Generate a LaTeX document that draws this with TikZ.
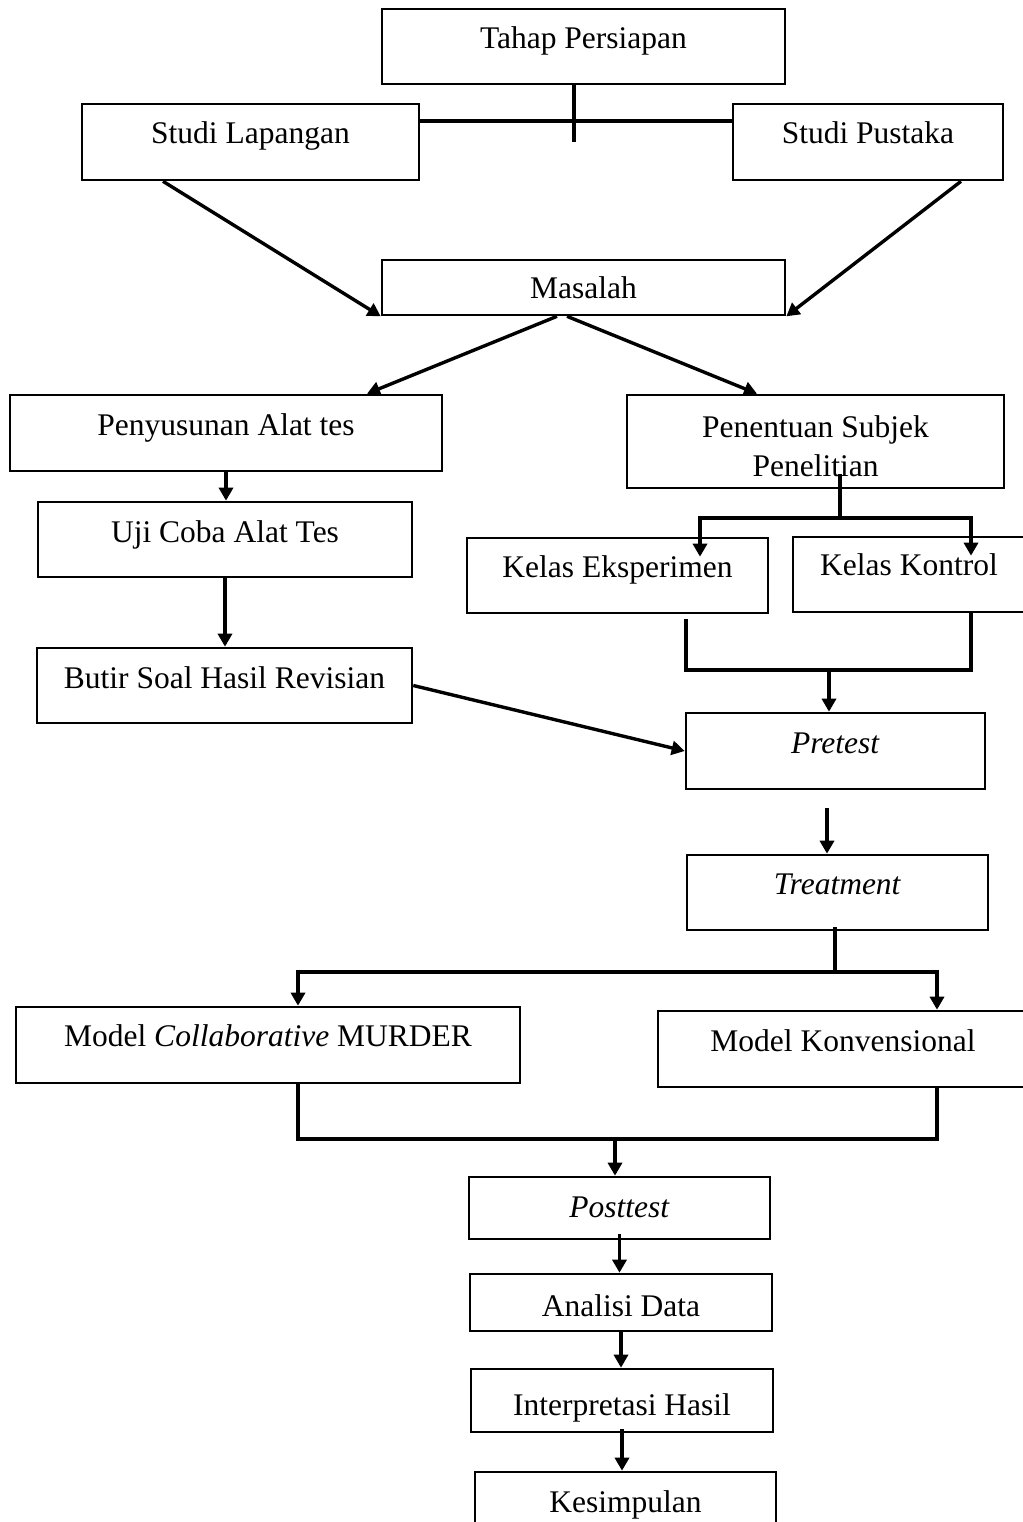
\documentclass[tikz,border=0pt]{standalone}
\usepackage{fontspec}
\setmainfont{Liberation Serif}
\usetikzlibrary{arrows.meta}

\begin{document}
\begin{tikzpicture}
		[x=0.5pt, y=-0.5pt, font=\fontsize{15.75}{19.5}\selectfont,
		stage/.style	= {rectangle, draw, line width=1.3pt, inner sep=0pt, text height=11pt, text depth=3.5pt},
		dims/.style 2 args	= {minimum width=#1, minimum height=#2},
		lift/.style	= {text depth=#1},
		drop/.style	= {text height=#1},
		joint/.style	= {line width=1.7pt},
		paths/.style	= {-{Triangle[length=6.5pt, width=7pt]}, line width=1.7pt}]
		
		\useasboundingbox (0, 0) rectangle (1023, 1522);
		\clip (0, 0) rectangle (1023, 1522);
		
		\node at (583.5, 46.5)	[stage, dims={201.5pt}{37.5pt}, lift=9.5pt]	(tahap)	{Tahap Persiapan};
		\node at (250.5, 142)	[stage, dims={168.5pt}{38pt}, lift=10pt]	(lapangan)	{Studi Lapangan};
		\node at (868, 142)		[stage, dims={135pt}{38pt}, lift=10pt]		(pustaka)	{Studi Pustaka};
		\node at (583.5, 287.5)	[stage, dims={201.5pt}{27.5pt}, lift=0.5pt]	(masalah)	{Masalah};
		
		\node at (226, 433)		[stage, dims={216pt}{38pt}, lift=9pt]		(penyusunan)	{Penyusunan Alat tes};
		\node at (225, 539.5)	[stage, dims={187pt}{37.5pt}, lift=8.5pt]	(ujicoba)	{Uji Coba Alat Tes};
		\node at (224.5, 685.5)	[stage, dims={187.5pt}{37.5pt}, lift=8.5pt]	(butir)		{Butir Soal Hasil Revisian};
		
		\node at (815.5, 441.5)	[stage, dims={188.5pt}{46.5pt}, align=center, text height=35.3pt, text depth=0pt]	(penentuan)	{Penentuan Subjek\\Penelitian};
		\node at (617.5, 575.5)	[stage, dims={150.5pt}{37.5pt}, lift=9.5pt]	(eksperimen)	{Kelas Eksperimen};
		\node at (909, 574.5)	[stage, dims={116pt}{37.5pt}, lift=10.5pt]	(kontrol)	{Kelas Kontrol};
		
		\node at (835.5, 751)	[stage, dims={149.5pt}{38pt}, lift=9pt]		(pretest)	{\textit{Pretest}};
		\node at (837.5, 892.5)	[stage, dims={150.5pt}{37.5pt}, lift=9.5pt]	(treatment)	{\textit{Treatment}};
		
		\node at (268, 1045)	[stage, dims={252pt}{38pt}, lift=10pt]		(collab)	{Model \textit{Collaborative} MURDER};
		\node at (843, 1049)	[stage, dims={185pt}{38pt}, lift=9pt]		(konvensional)	{Model Konvensional};
		
		\node at (619.5, 1208)	[stage, dims={150.5pt}{31pt}, lift=2pt]		(posttest)	{\textit{Posttest}};
		\node at (621, 1302.5)	[stage, dims={151pt}{28.5pt}, drop=17pt]	(analisi)	{Analisi Data};
		\node at (622, 1400.5)	[stage, dims={151pt}{31.5pt}, drop=18pt]	(interpretasi)	{Interpretasi Hasil};
		\node at (625.5, 1503.5)	[stage, dims={150.5pt}{31.5pt}, drop=12pt]	(kesimpulan)	{Kesimpulan};
		
		\coordinate (hub)		at (574, 121);
		\coordinate (hubend)	at (574, 142);
		\coordinate (split1)	at (840, 518);
		\coordinate (merge1)	at (829, 670);
		\coordinate (split2)	at (835, 972);
		\coordinate (merge2)	at (615, 1139);
		
		\draw [joint] (tahap.south -| hub) -- (hubend);
		\draw [joint] (lapangan.east |- hub) -- (pustaka.west |- hub);
		
		\draw [paths] ([xshift=-43.75pt]lapangan.south) -- (masalah.south west);
		\draw [paths] ([xshift=46.5pt]pustaka.south) -- (masalah.south east);
		
		\draw [paths] ([xshift=-13.25pt]masalah.south) -- ([xshift=70.5pt]penyusunan.north);
		\draw [paths] ([xshift=-8.25pt]masalah.south) -- ([xshift=-29.25pt]penentuan.north);
		
		\draw [paths] (penyusunan.south) -- (penyusunan.south |- ujicoba.north);
		\draw [paths] (ujicoba.south) -- (ujicoba.south |- butir.north);
		\draw [paths] (butir.east) -- (pretest.west);
		
		\draw [joint] ([yshift=7.5pt]penentuan.south -| split1) -- (split1);
		\draw [paths] (split1) -| ([xshift=41.25pt, yshift=-10pt]eksperimen.north);
		\draw [paths] (split1) -| ([xshift=31pt, yshift=-10pt]kontrol.north);
		
		\draw [joint] ([xshift=34.25pt, yshift=-2.5pt]eksperimen.south) |- (merge1);
		\draw [joint] ([xshift=31pt]kontrol.south) |- (merge1);
		\draw [paths] (merge1) -- (merge1 |- pretest.north);
		
		\draw [paths] ([xshift=-4.25pt, yshift=-9pt]pretest.south) -- ([xshift=-4.25pt]pretest.south |- treatment.north);
		
		\draw [joint] ([yshift=2pt]treatment.south -| split2) -- (split2);
		\draw [paths] (split2) -| ([xshift=15pt]collab.north);
		\draw [paths] (split2) -| ([xshift=47pt]konvensional.north);
		
		\draw [joint] ([xshift=15pt]collab.south) |- (merge2);
		\draw [joint] ([xshift=47pt]konvensional.south) |- (merge2);
		\draw [paths] (merge2) -- (merge2 |- posttest.north);
		
		\draw [paths] ([yshift=3pt]posttest.south) -- (posttest.south |- analisi.north);
		\draw [paths] (analisi.south) -- (analisi.south |- interpretasi.north);
		\draw [paths] ([yshift=2pt]interpretasi.south) -- (interpretasi.south |- kesimpulan.north);
		
\end{tikzpicture}
\end{document}
